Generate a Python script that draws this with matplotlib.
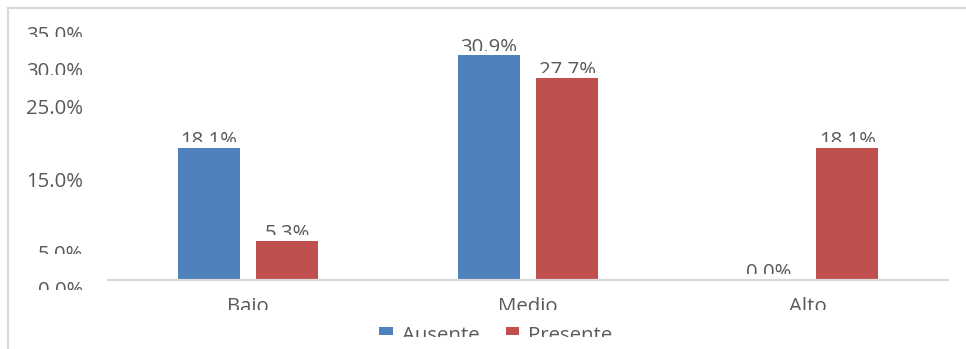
import matplotlib
matplotlib.use("Agg")
import matplotlib.pyplot as plt
import matplotlib.transforms as mtransforms
from matplotlib.lines import Line2D
from matplotlib.transforms import Bbox
import numpy as np

plt.rcParams['font.family'] = ['Open Sans', 'DejaVu Sans']

categories = ['Bajo', 'Medio', 'Alto']
ausente = [18.1, 30.9, 0.0]
presente = [5.3, 27.7, 18.1]
series_names = ['Ausente', 'Presente']
yticks = [0, 5, 15, 25, 30, 35]
ytick_labels = ['0.0%', '5.0%', '15.0%', '25.0%', '30.0%', '35.0%']

BLUE = '#4f81bd'
RED = '#c0504d'
TEXT = '#595959'
LINE = '#d9d9d9'
FS = 14.7

# pixels of each element kept below its top edge (None = keep it whole)
ytick_keep = [9, 9, None, None, 13, 11]
ausente_keep = [11, 13, 11]
presente_keep = [11, 12, 11]
cat_keep = 13
legend_keep = 11
handle_keep = 8

fig = plt.figure(figsize=(9.66, 3.49), dpi=100)
ax = fig.add_axes([108 / 966, 69 / 349, 840 / 966, 255 / 349])

# outer chart frame: only its left and top edges are inside the canvas
fx, fy = 7.5 / 966, 1 - 7.5 / 349
fig.add_artist(Line2D([fx, fx], [0, fy], transform=fig.transFigure, color=LINE, lw=1.6))
fig.add_artist(Line2D([fx, 1], [fy, fy], transform=fig.transFigure, color=LINE, lw=1.6))

x = np.arange(len(categories))
w = 0.2214
off = 0.141
b1 = ax.bar(x - off, ausente, w, color=BLUE, label=series_names[0])
b2 = ax.bar(x + off, presente, w, color=RED, label=series_names[1])

ax.set_xlim(-0.5, 2.5)
ax.set_ylim(0, 35)
ax.set_xticks(x)
ax.set_xticklabels(categories)
ax.set_yticks(yticks)
ax.set_yticklabels(ytick_labels)
ax.tick_params(axis='x', length=0, pad=12, labelsize=FS, labelcolor=TEXT)
ax.tick_params(axis='y', length=0, pad=18, labelsize=FS, labelcolor=TEXT)
for s in ['left', 'right', 'top']:
    ax.spines[s].set_visible(False)
ax.spines['bottom'].set_color(LINE)
ax.spines['bottom'].set_linewidth(1.6)

shift = mtransforms.ScaledTranslation(0, -0.085, fig.dpi_scale_trans)
for lbl in ax.get_yticklabels():
    lbl.set_transform(lbl.get_transform() + shift)

clip_jobs = []
for bars, vals, keeps in [(b1, ausente, ausente_keep), (b2, presente, presente_keep)]:
    for rect, v, k in zip(bars, vals, keeps):
        t = ax.annotate(f'{v:.1f}%', (rect.get_x() + rect.get_width() / 2, v),
                        xytext=(0, 1.5), textcoords='offset points',
                        ha='center', va='baseline', fontsize=FS, color=TEXT)
        clip_jobs.append((t, k))

leg = fig.legend(loc='upper center', bbox_to_anchor=(496 / 966, 1 - 326 / 349),
                 ncol=2, frameon=False, fontsize=FS, labelcolor=TEXT,
                 handlelength=0.65, handleheight=0.65, handletextpad=0.45,
                 columnspacing=1.3, borderpad=0, borderaxespad=0)

for lbl, k in zip(ax.get_yticklabels(), ytick_keep):
    clip_jobs.append((lbl, k))
for lbl in ax.get_xticklabels():
    clip_jobs.append((lbl, cat_keep))
for t in leg.get_texts():
    clip_jobs.append((t, legend_keep))
for h in leg.legend_handles:
    clip_jobs.append((h, handle_keep))

fig.canvas.draw()
for t, keep in clip_jobs:
    if keep is None:
        continue
    bb = t.get_window_extent()
    t.set_clip_box(Bbox.from_extents(bb.x0 - 3, bb.y1 - keep, bb.x1 + 3, bb.y1 + 3))
    t.set_clip_on(True)

fig.savefig('out.png', dpi=100)
